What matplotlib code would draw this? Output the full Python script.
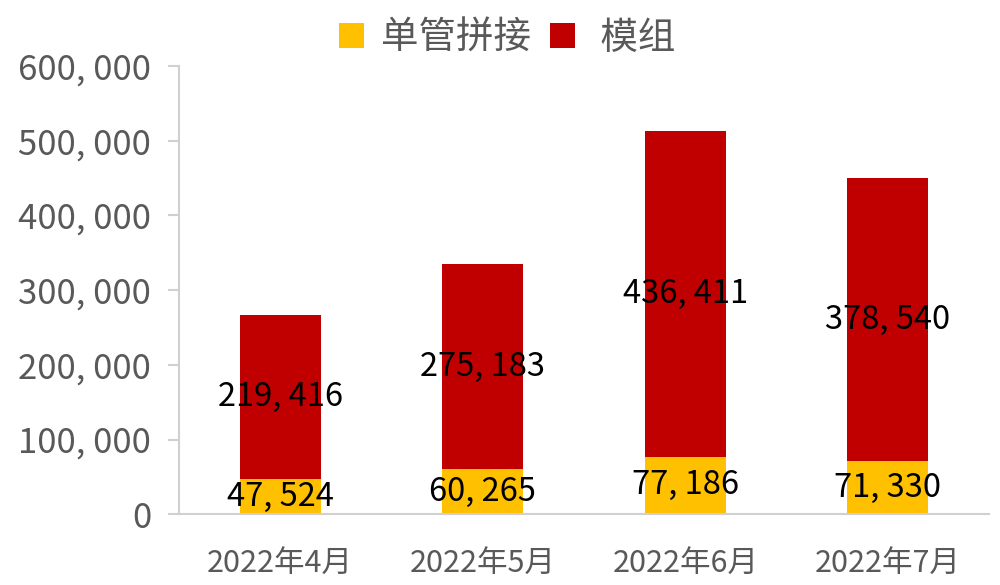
import matplotlib
matplotlib.use("Agg")
import matplotlib.pyplot as plt
import numpy as np

plt.rcParams['font.family'] = ['Noto Sans CJK SC', 'DejaVu Sans']

categories = ["2022年4月", "2022年5月", "2022年6月", "2022年7月"]
single = [47524, 60265, 77186, 71330]
module = [219416, 275183, 436411, 378540]
series_names = ["单管拼接", " 模组"]
yticks = [0, 100000, 200000, 300000, 400000, 500000, 600000]

def fmt(v):
    return f"{v:,}".replace(",", ", ")

fig = plt.figure(figsize=(10, 5.85), dpi=100)
ax = fig.add_axes([0.179, 0.121, 0.81, 0.766])
x = np.arange(len(categories))
w = 0.4
b1 = ax.bar(x, single, w, color="#FFC000", label=series_names[0])
b2 = ax.bar(x, module, w, bottom=single, color="#C00000", label=series_names[1])

for i in range(len(categories)):
    ax.text(x[i], single[i] / 2, fmt(single[i]), ha="center", va="center",
            fontsize=23.5, color="black")
    ax.text(x[i], single[i] + module[i] / 2, fmt(module[i]), ha="center", va="center",
            fontsize=23.5, color="black")

ax.set_xlim(-0.5, 3.5)
ax.set_ylim(0, 600000)
ax.set_yticks(yticks)
ax.set_yticklabels([fmt(v) for v in yticks], fontsize=25, color="#595959")
ax.set_xticks(x)
ax.set_xticklabels(categories, fontsize=22, color="#595959")
ax.tick_params(axis="x", length=0, pad=24)
ax.tick_params(axis="y", length=8, width=1.5, color="#d0d0d0", pad=12)
for s in ["top", "right"]:
    ax.spines[s].set_visible(False)
for s in ["left", "bottom"]:
    ax.spines[s].set_color("#d0d0d0")
    ax.spines[s].set_linewidth(1.5)

leg = fig.legend(handles=[b1, b2], labels=series_names, loc="center",
                 bbox_to_anchor=(0.507, 0.935), ncol=2, frameon=False,
                 fontsize=27, handlelength=0.67, handleheight=0.67,
                 columnspacing=0.5, handletextpad=0.45, borderpad=0)
for t in leg.get_texts():
    t.set_color("#595959")

fig.savefig("out.png", dpi=100)
